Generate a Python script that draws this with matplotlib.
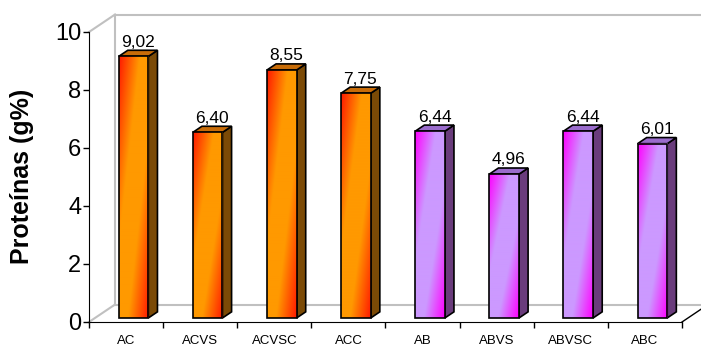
import numpy as np
import matplotlib.pyplot as plt
from matplotlib.colors import LinearSegmentedColormap
from matplotlib.patches import Polygon

plt.rcParams['font.family'] = ['Liberation Sans', 'DejaVu Sans']

categorias = ['AC', 'ACVS', 'ACVSC', 'ACC', 'AB', 'ABVS', 'ABVSC', 'ABC']
proteinas = [9.02, 6.40, 8.55, 7.75, 6.44, 4.96, 6.44, 6.01]
rotulos = ['9,02', '6,40', '8,55', '7,75', '6,44', '4,96', '6,44', '6,01']
grupo = ['A', 'A', 'A', 'A', 'B', 'B', 'B', 'B']

# face colours per group: front gradient (edge, middle), side, top
cores = {
    'A': {'frente': ('#ff1a00', '#ff9900'), 'lado': '#7b4a06', 'topo': '#c86c08'},
    'B': {'frente': ('#ff00ff', '#cc99ff'), 'lado': '#6a3c7c', 'topo': '#9a6ccc'},
}

# oblique depth: full depth of the floor in data units
DX = 0.351
DY = 0.603
Z1, Z2 = 0.23, 0.58   # front and back of the bars
LARG = 0.40           # bar width (fraction of a category)
OFF = 0.32            # bar left edge inside its category


def proj(x, y, z):
    return x + z * DX, y + z * DY


fig = plt.figure(figsize=(7.01, 3.47), dpi=100)
ax = fig.add_axes([0, 0, 1, 1])

n = len(categorias)
cinza = '#c0c0c0'

# back wall and floor edges
x0b, y0b = proj(0, 0, 1)
x1b, y1b = proj(0, 10, 1)
xrb, _ = proj(n, 0, 1)
ax.plot([0, x0b], [0, y0b], color=cinza, lw=1.5, zorder=1)
ax.plot([0, x1b], [10, y1b], color=cinza, lw=1.5, zorder=1)
ax.plot([x0b, x0b], [y0b, y1b], color=cinza, lw=1.5, zorder=1)
ax.plot([x0b, xrb], [y0b, y0b], color=cinza, lw=1.5, zorder=1)
ax.plot([x1b, xrb], [y1b, y1b], color=cinza, lw=1.5, zorder=1)
ax.plot([n, xrb], [0, y0b], color='black', lw=1.0, zorder=1)

u = np.linspace(0, 1, 60)[None, :]
v = np.linspace(0, 1, 300)[:, None]
t = (u + v) / 2

for i, val in enumerate(proteinas):
    c = cores[grupo[i]]
    cmap = LinearSegmentedColormap.from_list(
        'g', [(0, c['frente'][0]), (0.35, c['frente'][1]),
              (0.65, c['frente'][1]), (1, c['frente'][0])])

    xl, yb = proj(i + OFF, 0, Z1)
    xr = xl + LARG
    yt = yb + val
    ddx = (Z2 - Z1) * DX
    ddy = (Z2 - Z1) * DY

    lado = Polygon([(xr, yb), (xr + ddx, yb + ddy), (xr + ddx, yt + ddy), (xr, yt)],
                   facecolor=c['lado'], edgecolor='black', lw=1.2, zorder=3)
    topo = Polygon([(xl, yt), (xr, yt), (xr + ddx, yt + ddy), (xl + ddx, yt + ddy)],
                   facecolor=c['topo'], edgecolor='black', lw=1.2, zorder=3)
    ax.add_patch(lado)
    ax.add_patch(topo)

    ax.imshow(cmap(t), extent=(xl, xr, yb, yt), aspect='auto',
              interpolation='bilinear', zorder=4)
    ax.add_patch(Polygon([(xl, yb), (xr, yb), (xr, yt), (xl, yt)],
                         facecolor='none', edgecolor='black', lw=1.2, zorder=5))

    ax.text((xl + xr + ddx) / 2, yt + ddy + 0.02, rotulos[i],
            ha='center', va='bottom', fontsize=12.5, zorder=6)

# axes on the front plane
for s in ['top', 'right']:
    ax.spines[s].set_visible(False)
ax.spines['left'].set_position(('data', 0))
ax.spines['left'].set_bounds(0, 10)
ax.spines['bottom'].set_position(('data', 0))
ax.spines['bottom'].set_bounds(0, n)
ax.spines['left'].set_zorder(2)

ax.set_yticks(np.arange(0, 11, 2))
ax.tick_params(axis='y', direction='out', length=4.5, width=1, pad=1, labelsize=17)
ax.set_xticks(np.arange(0, n + 1))
ax.set_xticklabels([])
ax.set_xticks(np.arange(n) + 0.5, minor=True)
ax.set_xticklabels(categorias, minor=True, fontsize=9.5)
ax.tick_params(axis='x', which='major', direction='out', length=4.5, width=1)
ax.tick_params(axis='x', which='minor', length=0, pad=9)

fig.text(22 / 701, 1 - 176 / 347, 'Proteínas (g%)', rotation=90,
         ha='center', va='center', fontsize=18, fontweight='bold')

# data limits chosen so the front plane fills the plotting area
ax.set_xlim(-89 / 74.125, (701 - 89) / 74.125)
ax.set_ylim(-25 / 29.0, (347 - 25) / 29.0)
ax.patch.set_visible(False)

fig.savefig('out.png', dpi=100)
plt.close()
